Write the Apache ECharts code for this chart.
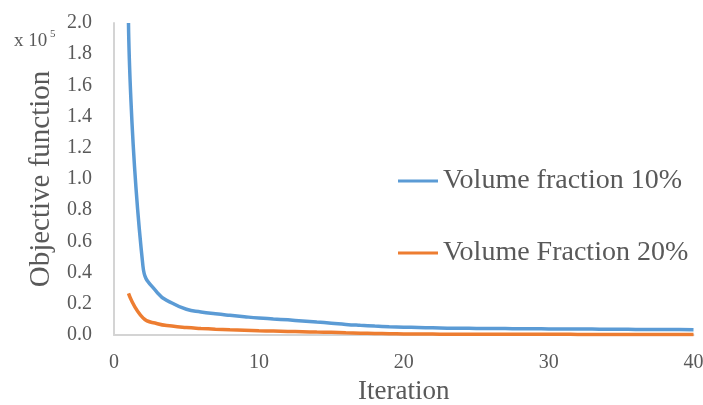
<!DOCTYPE html>
<html>
<head>
<meta charset="utf-8">
<script src="https://cdn.jsdelivr.net/npm/echarts@6/dist/echarts.min.js"></script>
<style>
  html, body { margin: 0; padding: 0; background: #fff; }
  #chart { width: 703px; height: 405px; }
</style>
</head>
<body>
<div id="chart"></div>
<script>
// Objective function history (units of 1e5) per optimisation iteration
const iterations = Array.from({ length: 40 }, (_, i) => i + 1);
const volFrac10 = [
  2.0, 0.44, 0.27, 0.205, 0.165, 0.148, 0.136, 0.126, 0.117, 0.109,
  0.103, 0.097, 0.090, 0.083, 0.076, 0.068, 0.062, 0.057, 0.053, 0.050,
  0.048, 0.046, 0.044, 0.043, 0.042, 0.041, 0.041, 0.040, 0.040, 0.039,
  0.039, 0.038, 0.038, 0.037, 0.037, 0.036, 0.036, 0.035, 0.035, 0.034
];
const volFrac20 = [
  0.267, 0.110, 0.072, 0.057, 0.048, 0.042, 0.037, 0.033, 0.030, 0.027,
  0.025, 0.023, 0.021, 0.019, 0.017, 0.014, 0.012, 0.010, 0.008, 0.007,
  0.006, 0.006, 0.005, 0.005, 0.005, 0.005, 0.005, 0.005, 0.005, 0.005,
  0.005, 0.004, 0.004, 0.004, 0.004, 0.004, 0.004, 0.004, 0.004, 0.004
];
const seriesNames = ['Volume fraction 10%', 'Volume Fraction 20%'];
const xTicks = { min: 0, max: 40, interval: 10 };
const yTicks = { min: 0, max: 2.0, interval: 0.2 };

const FONT = '"Liberation Serif", "Times New Roman", serif';
const TEXT = '#595959';
const AXIS = '#d4d4d4';

const chart = echarts.init(document.getElementById('chart'), null, { renderer: 'canvas' });

const legendBase = {
  orient: 'vertical',
  left: 398,
  padding: 0,
  itemWidth: 40,
  itemHeight: 3,
  icon: 'rect',
  textStyle: { fontFamily: FONT, fontSize: 28, color: TEXT },
  selectedMode: false
};

chart.setOption({
  animation: false,
  backgroundColor: '#fff',
  grid: {
    left: 114, right: 9.5, top: 23, bottom: 70,
    containLabel: false, outerBoundsMode: 'none'
  },
  legend: [
    Object.assign({}, legendBase, { top: 167, data: [seriesNames[0]] }),
    Object.assign({}, legendBase, { top: 239, data: [seriesNames[1]] })
  ],
  xAxis: {
    type: 'value',
    min: xTicks.min, max: xTicks.max, interval: xTicks.interval,
    name: 'Iteration',
    nameLocation: 'middle',
    nameGap: 43,
    nameTextStyle: { fontFamily: FONT, fontSize: 27, color: TEXT },
    axisLine: { show: true, lineStyle: { color: AXIS, width: 2 } },
    axisTick: { show: false },
    splitLine: { show: false },
    axisLabel: { fontFamily: FONT, fontSize: 20, color: TEXT, margin: 18 }
  },
  yAxis: {
    type: 'value',
    min: yTicks.min, max: yTicks.max, interval: yTicks.interval,
    name: 'Objective function',
    nameLocation: 'middle',
    nameGap: 48,
    nameTextStyle: { fontFamily: FONT, fontSize: 29, color: TEXT },
    axisLine: { show: true, lineStyle: { color: AXIS, width: 2 } },
    axisTick: { show: false },
    splitLine: { show: false },
    axisLabel: {
      fontFamily: FONT, fontSize: 20, color: TEXT, margin: 22,
      formatter: v => v.toFixed(1)
    }
  },
  graphic: [
    {
      type: 'text', left: 14, top: 32,
      style: { text: 'x 10', fontFamily: FONT, fontSize: 19, fill: TEXT }
    },
    {
      type: 'text', left: 50, top: 29,
      style: { text: '5', fontFamily: FONT, fontSize: 11, fill: TEXT }
    }
  ],
  series: [
    {
      name: seriesNames[0],
      type: 'line',
      data: iterations.map((it, i) => [it, volFrac10[i]]),
      smooth: 0.5,
      showSymbol: false,
      symbol: 'none',
      lineStyle: { color: '#5B9BD5', width: 3.5 },
      itemStyle: { color: '#5B9BD5' }
    },
    {
      name: seriesNames[1],
      type: 'line',
      data: iterations.map((it, i) => [it, volFrac20[i]]),
      smooth: 0.5,
      showSymbol: false,
      symbol: 'none',
      lineStyle: { color: '#ED7D31', width: 3.5 },
      itemStyle: { color: '#ED7D31' }
    }
  ]
});
</script>
</body>
</html>
